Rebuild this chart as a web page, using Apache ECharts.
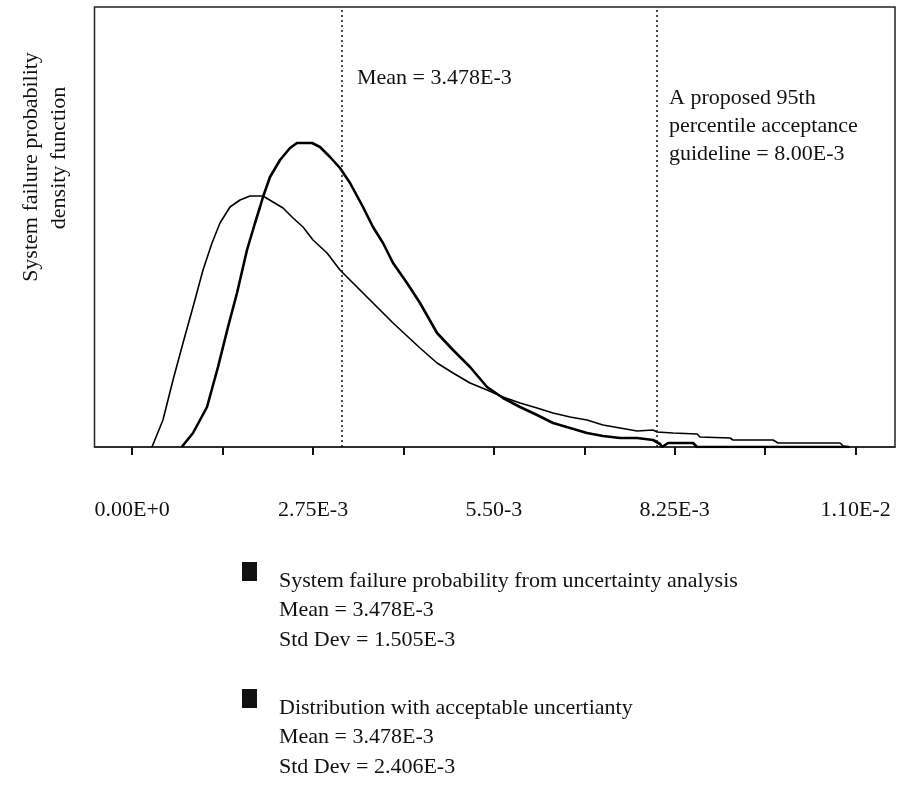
<!DOCTYPE html>
<html>
<head>
<meta charset="utf-8">
<script src="https://cdn.jsdelivr.net/npm/echarts@6/dist/echarts.min.js"></script>
<style>
html,body{margin:0;padding:0;background:#fff;}
#chart{width:901px;height:799px;}
</style>
</head>
<body>
<div id="chart"></div>
<script>
// x values are in units of 1E-3 (system failure probability)
const xTickValues = [0, 1.375, 2.75, 4.125, 5.5, 6.875, 8.25, 9.625, 11];
const xLabelValues = [0, 2.75, 5.5, 8.25, 11];
const xLabelTexts = ['0.00E+0', '2.75E-3', '5.50-3', '8.25E-3', '1.10E-2'];

// System failure probability from uncertainty analysis (narrower curve)
const narrowX = [0.753, 0.925, 1.138, 1.305, 1.457, 1.594, 1.746, 1.868, 1.944, 1.989, 2.096, 2.248, 2.400, 2.506, 2.735, 2.856, 3.008, 3.160, 3.313, 3.510, 3.662, 3.814, 3.967, 4.179, 4.377, 4.636, 4.879, 5.138, 5.396, 5.640, 5.898, 6.157, 6.400, 6.659, 6.917, 7.160, 7.419, 7.677, 7.921, 8.027, 8.058, 8.149, 8.529, 8.590, 10.9];
const narrowY = [0, 14, 40, 80, 120, 154, 197, 224, 240, 250, 270, 287, 299, 304, 304, 300, 290, 279, 264, 240, 220, 204, 184, 164, 144, 114, 97, 80, 60, 49, 40, 32, 24, 19, 14, 11, 9, 9, 7, 3, 0, 4, 4, 0, 0];

// Distribution with acceptable uncertainty (wider curve)
const wideX = [0.301, 0.468, 0.621, 0.773, 0.925, 1.077, 1.214, 1.335, 1.487, 1.640, 1.792, 1.989, 2.141, 2.294, 2.446, 2.598, 2.750, 2.963, 3.160, 3.358, 3.571, 3.769, 3.967, 4.377, 4.636, 4.879, 5.138, 5.396, 5.640, 5.898, 6.157, 6.400, 6.659, 6.917, 7.160, 7.419, 7.677, 7.921, 7.982, 8.225, 8.590, 8.635, 9.092, 9.137, 9.746, 9.822, 10.765, 10.811, 10.917];
const wideY = [0, 27, 67, 104, 140, 177, 204, 224, 240, 247, 251, 251, 245, 239, 229, 220, 207, 194, 177, 164, 150, 137, 124, 99, 84, 74, 64, 57, 50, 44, 39, 34, 30, 27, 22, 19, 16, 17, 15, 14, 13, 10, 9, 7, 7, 4, 4, 1, 0];

// Vertical reference lines (as drawn)
const refLineValues = [3.18, 7.97];

const legendEntries = [
  ['System failure probability from uncertainty analysis', 'Mean = 3.478E-3', 'Std Dev = 1.505E-3'],
  ['Distribution with acceptable uncertianty', 'Mean = 3.478E-3', 'Std Dev = 2.406E-3']
];
const meanNote = 'Mean = 3.478E-3';
const guideNote = ['A proposed 95th', 'percentile acceptance', 'guideline = 8.00E-3'];
const yLabel = ['System failure probability', 'density function'];

const FONT = '"Liberation Serif", "Times New Roman", serif';
const chart = echarts.init(document.getElementById('chart'));

const pairs = (xs, ys) => xs.map((x, i) => [x, ys[i]]);

const graphics = [];
// y axis label
graphics.push({type: 'text', x: 31, y: 167, rotation: Math.PI / 2,
  style: {text: yLabel[0], font: '22px ' + FONT, fill: '#111', textAlign: 'center', textVerticalAlign: 'middle'}});
graphics.push({type: 'text', x: 59, y: 158, rotation: Math.PI / 2,
  style: {text: yLabel[1], font: '22px ' + FONT, fill: '#111', textAlign: 'center', textVerticalAlign: 'middle'}});
// annotations
graphics.push({type: 'text', x: 357, y: 78,
  style: {text: meanNote, font: '22px ' + FONT, fill: '#111', textVerticalAlign: 'middle'}});
guideNote.forEach((t, i) => graphics.push({type: 'text', x: 669, y: 98 + i * 28,
  style: {text: t, font: '22px ' + FONT, fill: '#111', textVerticalAlign: 'middle'}}));
// legend
legendEntries.forEach((lines, k) => {
  const top = 562 + k * 127;
  graphics.push({type: 'rect', shape: {x: 242, y: top, width: 15, height: 19}, style: {fill: '#111'}});
  lines.forEach((t, i) => graphics.push({type: 'text', x: 279, y: top + 19 + i * 29.5,
    style: {text: t, font: '22px ' + FONT, fill: '#111', textVerticalAlign: 'middle'}}));
});

chart.setOption({
  animation: false,
  backgroundColor: '#fff',
  grid: {left: 94.5, top: 7, right: 6, bottom: 352, show: true, borderColor: '#222', borderWidth: 1.5},
  xAxis: {
    type: 'value', min: -0.573, max: 11.60,
    splitLine: {show: false},
    axisLine: {show: true, lineStyle: {color: '#222', width: 1.5}},
    axisTick: {show: true, inside: false, length: 8, customValues: xTickValues, lineStyle: {color: '#111', width: 2}},
    axisLabel: {
      customValues: xLabelValues, margin: 52, color: '#111', fontFamily: FONT, fontSize: 22,
      formatter: v => { const i = xLabelValues.findIndex(u => Math.abs(u - v) < 1e-6); return i >= 0 ? xLabelTexts[i] : ''; }
    }
  },
  yAxis: {type: 'value', min: 0, max: 440, show: false, splitLine: {show: false}},
  series: [
    {type: 'line', name: legendEntries[0][0], data: pairs(narrowX, narrowY), symbol: 'none',
     lineStyle: {color: '#000', width: 2.6}, z: 3,
     markLine: {silent: true, symbol: 'none', label: {show: false},
       lineStyle: {color: '#111', type: [2, 3], width: 1.5},
       data: refLineValues.map(v => ({xAxis: v}))}},
    {type: 'line', name: legendEntries[1][0], data: pairs(wideX, wideY), symbol: 'none',
     lineStyle: {color: '#000', width: 1.6}, z: 3}
  ],
  graphic: graphics
});
</script>
</body>
</html>
